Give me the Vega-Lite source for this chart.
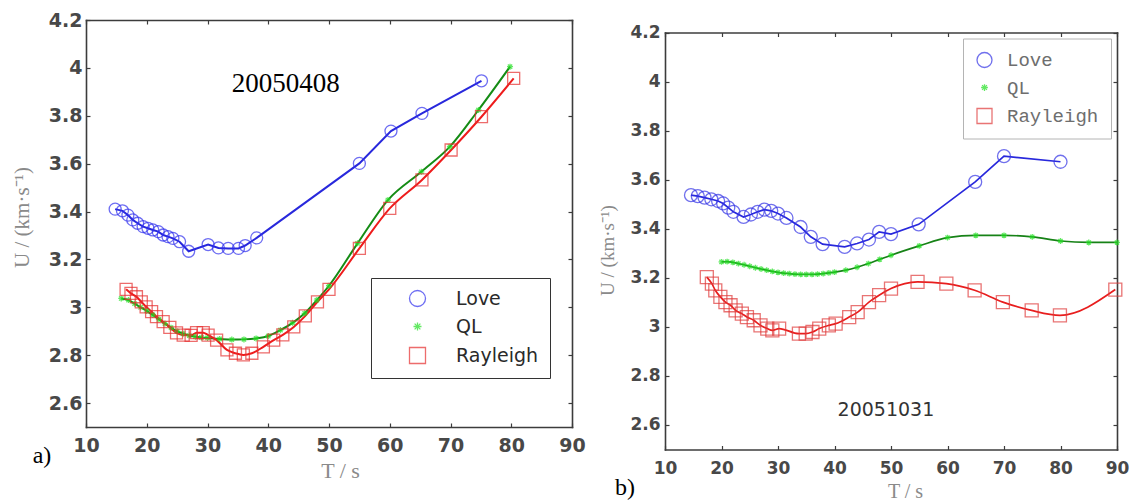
{
  "$schema": "https://vega.github.io/schema/vega-lite/v6.json",
  "background": "#ffffff",
  "width": 1136,
  "height": 502,
  "autosize": {"type": "none"},
  "padding": 0,
  "config": {
    "view": {"stroke": null},
    "axis": {
      "grid": false,
      "domain": true,
      "domainColor": "#3c3c3c",
      "domainWidth": 1.6,
      "domainCap": "square",
      "tickColor": "#3c3c3c",
      "tickWidth": 1.2,
      "tickSize": -4,
      "labelFont": "DejaVu Sans",
      "labelFontWeight": "bold",
      "labelColor": "#484848",
      "titleFont": "Liberation Serif",
      "titleFontWeight": "normal",
      "titleColor": "#8a8a8a",
      "labelFlush": false,
      "labelOverlap": false
    }
  },
  "datasets": {
    "left": [
      {"series": "Love", "T": 14.8, "U": 3.41},
      {"series": "Love", "T": 16.0, "U": 3.403},
      {"series": "Love", "T": 16.9, "U": 3.385},
      {"series": "Love", "T": 17.7, "U": 3.365},
      {"series": "Love", "T": 18.5, "U": 3.351},
      {"series": "Love", "T": 19.4, "U": 3.337},
      {"series": "Love", "T": 20.2, "U": 3.33},
      {"series": "Love", "T": 21.0, "U": 3.323},
      {"series": "Love", "T": 21.9, "U": 3.316},
      {"series": "Love", "T": 22.7, "U": 3.302},
      {"series": "Love", "T": 23.5, "U": 3.295},
      {"series": "Love", "T": 24.3, "U": 3.288},
      {"series": "Love", "T": 25.4, "U": 3.274},
      {"series": "Love", "T": 26.9, "U": 3.234},
      {"series": "Love", "T": 30.1, "U": 3.262},
      {"series": "Love", "T": 31.8, "U": 3.248},
      {"series": "Love", "T": 33.4, "U": 3.246},
      {"series": "Love", "T": 35.1, "U": 3.246},
      {"series": "Love", "T": 36.2, "U": 3.258},
      {"series": "Love", "T": 38.1, "U": 3.29},
      {"series": "Love", "T": 55.0, "U": 3.601},
      {"series": "Love", "T": 60.2, "U": 3.736},
      {"series": "Love", "T": 65.3, "U": 3.81},
      {"series": "Love", "T": 75.1, "U": 3.946},
      {"series": "QL", "T": 15.8, "U": 3.037},
      {"series": "QL", "T": 17.0, "U": 3.03},
      {"series": "QL", "T": 18.0, "U": 3.015},
      {"series": "QL", "T": 19.0, "U": 3.0},
      {"series": "QL", "T": 20.0, "U": 2.985},
      {"series": "QL", "T": 21.0, "U": 2.968},
      {"series": "QL", "T": 22.0, "U": 2.95},
      {"series": "QL", "T": 23.0, "U": 2.932},
      {"series": "QL", "T": 24.0, "U": 2.915},
      {"series": "QL", "T": 25.0, "U": 2.9},
      {"series": "QL", "T": 26.0, "U": 2.89},
      {"series": "QL", "T": 27.0, "U": 2.882},
      {"series": "QL", "T": 28.0, "U": 2.877},
      {"series": "QL", "T": 29.0, "U": 2.874},
      {"series": "QL", "T": 30.0, "U": 2.872},
      {"series": "QL", "T": 32.0, "U": 2.868},
      {"series": "QL", "T": 34.0, "U": 2.865},
      {"series": "QL", "T": 36.0, "U": 2.866},
      {"series": "QL", "T": 38.0, "U": 2.87},
      {"series": "QL", "T": 40.0, "U": 2.88},
      {"series": "QL", "T": 42.0, "U": 2.905},
      {"series": "QL", "T": 44.0, "U": 2.935},
      {"series": "QL", "T": 46.0, "U": 2.975},
      {"series": "QL", "T": 48.0, "U": 3.03},
      {"series": "QL", "T": 50.0, "U": 3.09},
      {"series": "QL", "T": 54.7, "U": 3.267},
      {"series": "QL", "T": 59.7, "U": 3.448},
      {"series": "QL", "T": 65.2, "U": 3.566},
      {"series": "QL", "T": 69.9, "U": 3.671},
      {"series": "QL", "T": 74.6, "U": 3.824},
      {"series": "QL", "T": 79.8, "U": 4.005},
      {"series": "Rayleigh", "T": 16.6, "U": 3.075},
      {"series": "Rayleigh", "T": 17.4, "U": 3.058},
      {"series": "Rayleigh", "T": 18.3, "U": 3.044},
      {"series": "Rayleigh", "T": 19.1, "U": 3.023},
      {"series": "Rayleigh", "T": 19.9, "U": 3.002},
      {"series": "Rayleigh", "T": 20.8, "U": 2.982},
      {"series": "Rayleigh", "T": 21.6, "U": 2.961},
      {"series": "Rayleigh", "T": 22.7, "U": 2.94},
      {"series": "Rayleigh", "T": 23.8, "U": 2.916},
      {"series": "Rayleigh", "T": 24.9, "U": 2.893},
      {"series": "Rayleigh", "T": 26.0, "U": 2.884},
      {"series": "Rayleigh", "T": 27.3, "U": 2.883},
      {"series": "Rayleigh", "T": 28.2, "U": 2.894},
      {"series": "Rayleigh", "T": 29.3, "U": 2.894},
      {"series": "Rayleigh", "T": 30.1, "U": 2.884},
      {"series": "Rayleigh", "T": 31.5, "U": 2.863},
      {"series": "Rayleigh", "T": 33.2, "U": 2.822},
      {"series": "Rayleigh", "T": 34.6, "U": 2.808},
      {"series": "Rayleigh", "T": 35.9, "U": 2.801},
      {"series": "Rayleigh", "T": 37.3, "U": 2.808},
      {"series": "Rayleigh", "T": 39.2, "U": 2.835},
      {"series": "Rayleigh", "T": 40.9, "U": 2.863},
      {"series": "Rayleigh", "T": 42.4, "U": 2.885},
      {"series": "Rayleigh", "T": 44.2, "U": 2.918},
      {"series": "Rayleigh", "T": 46.1, "U": 2.964},
      {"series": "Rayleigh", "T": 48.1, "U": 3.023},
      {"series": "Rayleigh", "T": 50.0, "U": 3.075},
      {"series": "Rayleigh", "T": 55.0, "U": 3.246},
      {"series": "Rayleigh", "T": 60.0, "U": 3.413},
      {"series": "Rayleigh", "T": 65.3, "U": 3.532},
      {"series": "Rayleigh", "T": 70.1, "U": 3.657},
      {"series": "Rayleigh", "T": 75.1, "U": 3.796},
      {"series": "Rayleigh", "T": 80.4, "U": 3.956}
    ],
    "right": [
      {"series": "Love", "T": 14.6, "U": 3.537},
      {"series": "Love", "T": 15.8, "U": 3.533},
      {"series": "Love", "T": 17.0, "U": 3.527},
      {"series": "Love", "T": 18.2, "U": 3.52},
      {"series": "Love", "T": 19.4, "U": 3.513},
      {"series": "Love", "T": 20.3, "U": 3.503},
      {"series": "Love", "T": 21.2, "U": 3.486},
      {"series": "Love", "T": 22.1, "U": 3.469},
      {"series": "Love", "T": 23.9, "U": 3.448},
      {"series": "Love", "T": 25.2, "U": 3.458},
      {"series": "Love", "T": 26.4, "U": 3.469},
      {"series": "Love", "T": 27.6, "U": 3.478},
      {"series": "Love", "T": 28.8, "U": 3.473},
      {"series": "Love", "T": 30.0, "U": 3.462},
      {"series": "Love", "T": 31.5, "U": 3.444},
      {"series": "Love", "T": 34.0, "U": 3.407},
      {"series": "Love", "T": 35.8, "U": 3.367},
      {"series": "Love", "T": 37.9, "U": 3.337},
      {"series": "Love", "T": 41.8, "U": 3.326},
      {"series": "Love", "T": 44.0, "U": 3.34},
      {"series": "Love", "T": 46.1, "U": 3.356},
      {"series": "Love", "T": 47.9, "U": 3.387},
      {"series": "Love", "T": 50.0, "U": 3.378},
      {"series": "Love", "T": 54.9, "U": 3.418},
      {"series": "Love", "T": 64.9, "U": 3.591},
      {"series": "Love", "T": 70.0, "U": 3.696},
      {"series": "Love", "T": 80.0, "U": 3.673},
      {"series": "QL", "T": 20, "U": 3.265},
      {"series": "QL", "T": 21, "U": 3.266},
      {"series": "QL", "T": 22, "U": 3.263},
      {"series": "QL", "T": 23, "U": 3.258},
      {"series": "QL", "T": 24, "U": 3.253},
      {"series": "QL", "T": 25, "U": 3.247},
      {"series": "QL", "T": 26, "U": 3.241},
      {"series": "QL", "T": 27, "U": 3.236},
      {"series": "QL", "T": 28, "U": 3.231},
      {"series": "QL", "T": 29, "U": 3.226},
      {"series": "QL", "T": 30, "U": 3.222},
      {"series": "QL", "T": 31, "U": 3.219},
      {"series": "QL", "T": 32, "U": 3.217},
      {"series": "QL", "T": 33, "U": 3.215},
      {"series": "QL", "T": 34, "U": 3.214},
      {"series": "QL", "T": 35, "U": 3.214},
      {"series": "QL", "T": 36, "U": 3.214},
      {"series": "QL", "T": 37, "U": 3.215},
      {"series": "QL", "T": 38, "U": 3.217},
      {"series": "QL", "T": 39, "U": 3.22},
      {"series": "QL", "T": 40, "U": 3.223},
      {"series": "QL", "T": 42, "U": 3.231},
      {"series": "QL", "T": 44, "U": 3.243},
      {"series": "QL", "T": 46, "U": 3.258},
      {"series": "QL", "T": 48, "U": 3.275},
      {"series": "QL", "T": 50, "U": 3.292},
      {"series": "QL", "T": 55, "U": 3.33},
      {"series": "QL", "T": 60, "U": 3.364},
      {"series": "QL", "T": 65, "U": 3.373},
      {"series": "QL", "T": 70, "U": 3.373},
      {"series": "QL", "T": 75, "U": 3.367},
      {"series": "QL", "T": 80, "U": 3.35},
      {"series": "QL", "T": 85, "U": 3.344},
      {"series": "QL", "T": 90, "U": 3.344},
      {"series": "Rayleigh", "T": 17.4, "U": 3.203},
      {"series": "Rayleigh", "T": 18.3, "U": 3.176},
      {"series": "Rayleigh", "T": 18.9, "U": 3.149},
      {"series": "Rayleigh", "T": 19.8, "U": 3.122},
      {"series": "Rayleigh", "T": 20.7, "U": 3.101},
      {"series": "Rayleigh", "T": 21.6, "U": 3.088},
      {"series": "Rayleigh", "T": 22.5, "U": 3.067},
      {"series": "Rayleigh", "T": 23.6, "U": 3.054},
      {"series": "Rayleigh", "T": 24.5, "U": 3.04},
      {"series": "Rayleigh", "T": 25.7, "U": 3.027},
      {"series": "Rayleigh", "T": 26.9, "U": 3.006},
      {"series": "Rayleigh", "T": 28.1, "U": 2.993},
      {"series": "Rayleigh", "T": 29.0, "U": 2.986},
      {"series": "Rayleigh", "T": 30.2, "U": 2.993},
      {"series": "Rayleigh", "T": 33.7, "U": 2.972},
      {"series": "Rayleigh", "T": 34.9, "U": 2.972},
      {"series": "Rayleigh", "T": 36.1, "U": 2.979},
      {"series": "Rayleigh", "T": 37.3, "U": 2.993},
      {"series": "Rayleigh", "T": 39.0, "U": 3.006},
      {"series": "Rayleigh", "T": 40.2, "U": 3.013},
      {"series": "Rayleigh", "T": 42.6, "U": 3.04},
      {"series": "Rayleigh", "T": 44.1, "U": 3.06},
      {"series": "Rayleigh", "T": 46.1, "U": 3.101},
      {"series": "Rayleigh", "T": 47.9, "U": 3.129},
      {"series": "Rayleigh", "T": 50.0, "U": 3.156},
      {"series": "Rayleigh", "T": 54.7, "U": 3.183},
      {"series": "Rayleigh", "T": 59.8, "U": 3.176},
      {"series": "Rayleigh", "T": 64.8, "U": 3.149},
      {"series": "Rayleigh", "T": 69.8, "U": 3.101},
      {"series": "Rayleigh", "T": 74.9, "U": 3.067},
      {"series": "Rayleigh", "T": 79.9, "U": 3.047},
      {"series": "Rayleigh", "T": 89.7, "U": 3.152}
    ]
  },
  "resolve": {
    "scale": {"x": "independent", "y": "independent", "color": "independent", "shape": "independent", "stroke": "independent"},
    "axis": {"x": "independent", "y": "independent"},
    "legend": {"color": "independent", "shape": "independent"}
  },
  "layer": [
    {
      "resolve": {"axis": {"x": "independent", "y": "independent"}},
      "layer": [
        {
          "data": {"name": "left"},
          "transform": [{"filter": "datum.series === 'Love'"}],
          "mark": {"type": "line", "color": "#2828dc", "strokeWidth": 2},
          "encoding": {
            "x": {
              "field": "T", "type": "quantitative",
              "scale": {"domain": [10, 90], "range": [86, 572], "nice": false, "zero": false},
              "axis": {
                "orient": "bottom", "offset": -75, "values": [10, 20, 30, 40, 50, 60, 70, 80, 90],
                "labelPadding": 13, "labelFontSize": 19,
                "title": "T / s", "titleFontSize": 22, "titleX": 340, "titleY": 43, "titleBaseline": "middle"
              }
            },
            "y": {
              "field": "U", "type": "quantitative",
              "scale": {"domain": [2.5, 4.2], "range": [427, 20], "nice": false, "zero": false},
              "axis": {
                "orient": "left", "offset": -86, "values": [2.6, 2.8, 3, 3.2, 3.4, 3.6, 3.8, 4, 4.2], "format": "~g",
                "labelPadding": 8, "labelFontSize": 19,
                "title": "U / (km·s⁻¹)", "titleFontSize": 21, "titleX": -64, "titleY": 217,
                "titleAngle": 270, "titleAlign": "center", "titleBaseline": "middle"
              }
            }
          }
        },
        {
          "data": {"name": "left"},
          "transform": [{"filter": "datum.series !== 'Love'"}],
          "mark": {"type": "line", "strokeWidth": 2, "interpolate": "monotone"},
          "encoding": {
            "x": {"field": "T", "type": "quantitative", "axis": null},
            "y": {"field": "U", "type": "quantitative", "axis": null},
            "stroke": {
              "field": "series", "type": "nominal",
              "scale": {"domain": ["QL", "Rayleigh"], "range": ["#158c15", "#ee1c1c"]},
              "legend": null
            }
          }
        },
        {
          "data": {"name": "left"},
          "mark": {"type": "point", "filled": false, "strokeWidth": 1.3, "size": 144},
          "encoding": {
            "x": {
              "field": "T", "type": "quantitative",
              "axis": {"orient": "top", "offset": -20, "values": [10, 20, 30, 40, 50, 60, 70, 80, 90], "labels": false, "title": null}
            },
            "y": {
              "field": "U", "type": "quantitative",
              "axis": {"orient": "right", "offset": -564, "values": [2.6, 2.8, 3, 3.2, 3.4, 3.6, 3.8, 4, 4.2], "labels": false, "title": null}
            },
            "color": {
              "field": "series", "type": "nominal",
              "scale": {"domain": ["Love", "QL", "Rayleigh"], "range": ["#3030ee", "#22e022", "#e62e2e"]},
              "legend": {
                "title": null, "orient": "none", "legendX": 371, "legendY": 278,
                "padding": 11, "symbolOffset": 26, "labelOffset": 29, "rowPadding": 7,
                "symbolSize": 256, "symbolStrokeWidth": 1.3,
                "strokeColor": "#333333", "fillColor": "#ffffff",
                "labelFont": "DejaVu Sans", "labelFontSize": 19, "labelColor": "#2a2a2a"
              }
            },
            "shape": {
              "field": "series", "type": "nominal",
              "scale": {
                "domain": ["Love", "QL", "Rayleigh"],
                "range": ["circle", "M-0.5,0L0.5,0M0,-0.5L0,0.5M-0.36,-0.36L0.36,0.36M-0.36,0.36L0.36,-0.36", "square"]
              },
              "legend": {
                "title": null, "orient": "none", "legendX": 371, "legendY": 278,
                "padding": 11, "symbolOffset": 26, "labelOffset": 29, "rowPadding": 7,
                "symbolSize": 256, "symbolStrokeWidth": 1.3,
                "strokeColor": "#333333", "fillColor": "#ffffff",
                "labelFont": "DejaVu Sans", "labelFontSize": 19, "labelColor": "#2a2a2a"
              }
            }
          }
        },
        {
          "data": {"values": [{"label": "20050408"}]},
          "mark": {"type": "text", "font": "Liberation Serif", "fontSize": 27, "color": "#000000", "align": "center", "baseline": "middle"},
          "encoding": {
            "x": {"datum": 42.9, "type": "quantitative", "axis": null},
            "y": {"datum": 3.933, "type": "quantitative", "axis": null},
            "text": {"field": "label"}
          }
        },
        {
          "data": {"values": [{"label": "a)"}]},
          "mark": {"type": "text", "font": "Liberation Serif", "fontSize": 24, "color": "#000000", "align": "center", "baseline": "middle"},
          "encoding": {
            "x": {"datum": 2.76, "type": "quantitative", "axis": null},
            "y": {"datum": 2.379, "type": "quantitative", "axis": null},
            "text": {"field": "label"}
          }
        }
      ]
    },
    {
      "resolve": {"axis": {"x": "independent", "y": "independent"}},
      "layer": [
        {
          "data": {"name": "right"},
          "transform": [{"filter": "datum.series === 'Love'"}],
          "mark": {"type": "line", "color": "#2828dc", "strokeWidth": 1.7},
          "encoding": {
            "x": {
              "field": "T", "type": "quantitative",
              "scale": {"domain": [10, 90], "range": [665, 1117], "nice": false, "zero": false},
              "axis": {
                "orient": "bottom", "offset": -52.5, "values": [10, 20, 30, 40, 50, 60, 70, 80, 90],
                "labelPadding": 15, "labelFontSize": 17,
                "title": "T / s", "titleFontSize": 20, "titleX": 905, "titleY": 42, "titleBaseline": "middle"
              }
            },
            "y": {
              "field": "U", "type": "quantitative",
              "scale": {"domain": [2.5, 4.2], "range": [449.5, 32.5], "nice": false, "zero": false},
              "axis": {
                "orient": "left", "offset": -665, "values": [2.6, 2.8, 3, 3.2, 3.4, 3.6, 3.8, 4, 4.2], "format": "~g",
                "labelPadding": 9, "labelFontSize": 17,
                "title": "U / (km·s⁻¹)", "titleFontSize": 19, "titleX": -58, "titleY": 250,
                "titleAngle": 270, "titleAlign": "center", "titleBaseline": "middle"
              }
            }
          }
        },
        {
          "data": {"name": "right"},
          "transform": [{"filter": "datum.series !== 'Love'"}],
          "mark": {"type": "line", "strokeWidth": 1.7, "interpolate": "monotone"},
          "encoding": {
            "x": {"field": "T", "type": "quantitative", "axis": null},
            "y": {"field": "U", "type": "quantitative", "axis": null},
            "stroke": {
              "field": "series", "type": "nominal",
              "scale": {"domain": ["QL", "Rayleigh"], "range": ["#178217", "#e81e1e"]},
              "legend": null
            }
          }
        },
        {
          "data": {"name": "right"},
          "mark": {"type": "point", "filled": false, "strokeWidth": 1.3, "size": 169},
          "encoding": {
            "x": {
              "field": "T", "type": "quantitative",
              "axis": {"orient": "top", "offset": -32.5, "values": [10, 20, 30, 40, 50, 60, 70, 80, 90], "labels": false, "title": null}
            },
            "y": {
              "field": "U", "type": "quantitative",
              "axis": {"orient": "right", "offset": -19, "values": [2.6, 2.8, 3, 3.2, 3.4, 3.6, 3.8, 4, 4.2], "labels": false, "title": null}
            },
            "color": {
              "field": "series", "type": "nominal",
              "scale": {"domain": ["Love", "QL", "Rayleigh"], "range": ["#3535e6", "#22e022", "#e03a3a"]},
              "legend": {
                "title": null, "orient": "none", "legendX": 963, "legendY": 38.5,
                "padding": 12, "labelOffset": 13, "rowPadding": 7.5,
                "symbolSize": 225, "symbolStrokeWidth": 1.3,
                "strokeColor": "#b4b4b4", "fillColor": "#ffffff",
                "labelFont": "Liberation Mono", "labelFontSize": 19, "labelColor": "#6e6e6e",
                "labelExpr": "datum.label === 'QL' ? '\u00a0QL' : datum.label"
              }
            },
            "shape": {
              "field": "series", "type": "nominal",
              "scale": {
                "domain": ["Love", "QL", "Rayleigh"],
                "range": ["circle", "M-0.45,0L0.45,0M0,-0.45L0,0.45M-0.32,-0.32L0.32,0.32M-0.32,0.32L0.32,-0.32", "square"]
              },
              "legend": {
                "title": null, "orient": "none", "legendX": 963, "legendY": 38.5,
                "padding": 12, "labelOffset": 13, "rowPadding": 7.5,
                "symbolSize": 225, "symbolStrokeWidth": 1.3,
                "strokeColor": "#b4b4b4", "fillColor": "#ffffff",
                "labelFont": "Liberation Mono", "labelFontSize": 19, "labelColor": "#6e6e6e",
                "labelExpr": "datum.label === 'QL' ? '\u00a0QL' : datum.label"
              }
            }
          }
        },
        {
          "data": {"values": [{"label": "20051031"}]},
          "mark": {"type": "text", "font": "DejaVu Sans", "fontSize": 19, "color": "#333333", "align": "center", "baseline": "middle"},
          "encoding": {
            "x": {"datum": 49.1, "type": "quantitative", "axis": null},
            "y": {"datum": 2.661, "type": "quantitative", "axis": null},
            "text": {"field": "label"}
          }
        },
        {
          "data": {"values": [{"label": "b)"}]},
          "mark": {"type": "text", "font": "Liberation Serif", "fontSize": 24, "color": "#000000", "align": "center", "baseline": "middle"},
          "encoding": {
            "x": {"datum": 2.92, "type": "quantitative", "axis": null},
            "y": {"datum": 2.343, "type": "quantitative", "axis": null},
            "text": {"field": "label"}
          }
        }
      ]
    }
  ]
}
